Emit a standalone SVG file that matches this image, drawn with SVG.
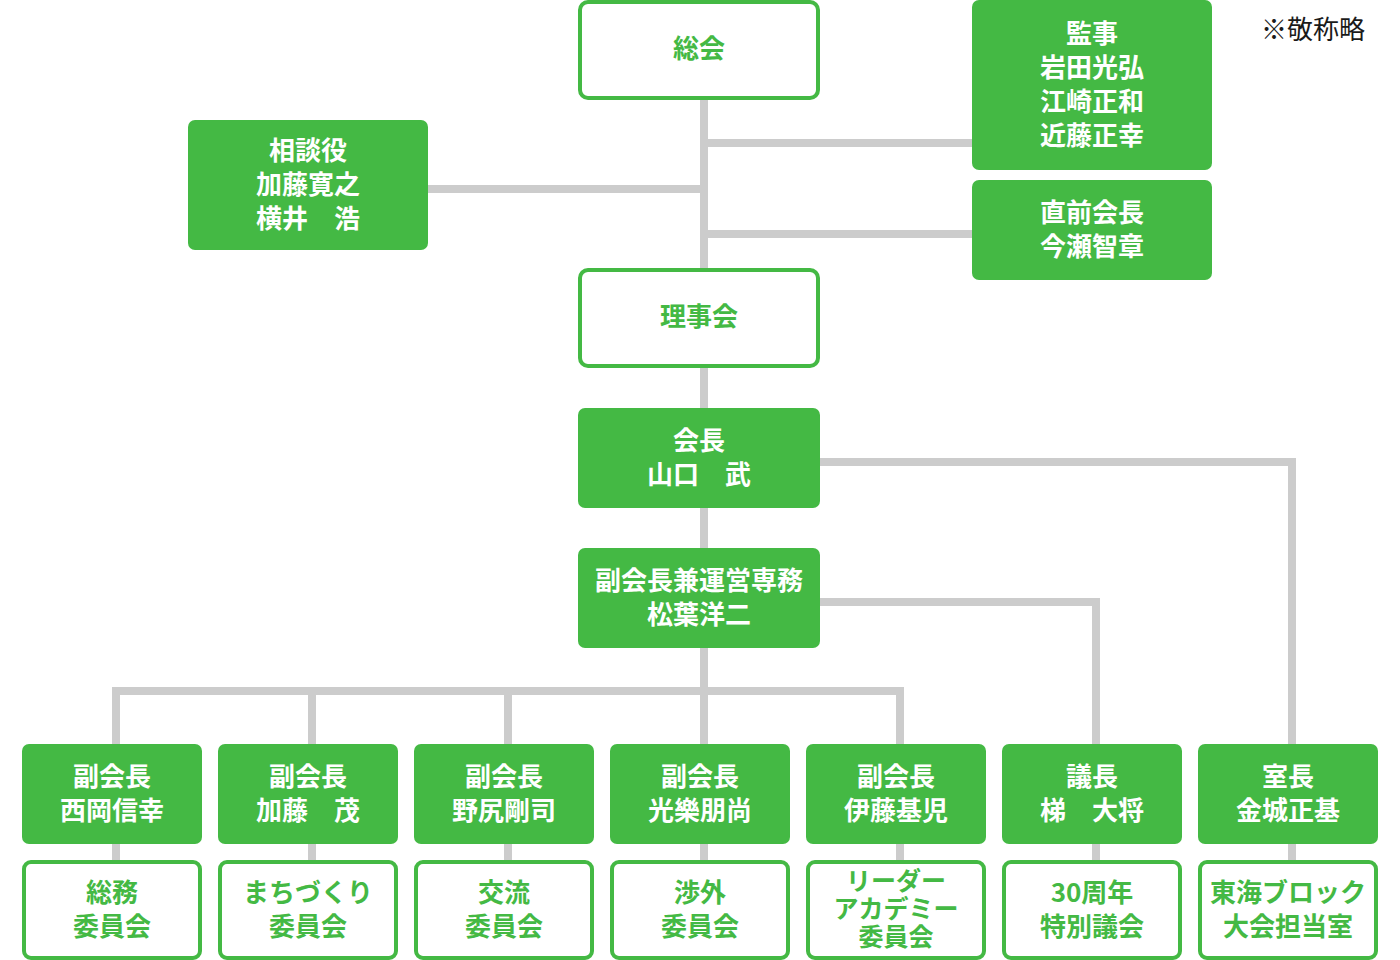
<svg xmlns="http://www.w3.org/2000/svg" width="1400" height="960" viewBox="0 0 1400 960">
<style>
.f{fill:#44b944;}
.o{fill:#fff;stroke:#44b944;stroke-width:4;}
.t{font-family:"Noto Sans CJK JP","Noto Sans",sans-serif;font-weight:bold;font-size:26px;text-anchor:middle;dominant-baseline:central;}
.s{font-size:25px;}
.w{fill:#fff;}
.g{fill:#44b944;}
.c{stroke:#cccccc;stroke-width:8;fill:none;}
</style>
<rect width="1400" height="960" fill="#fff"/>
<g id="connectors">
<line class="c" x1="704" y1="100" x2="704" y2="744"/>
<line class="c" x1="704" y1="143" x2="972" y2="143"/>
<line class="c" x1="704" y1="234" x2="972" y2="234"/>
<line class="c" x1="428" y1="189" x2="704" y2="189"/>
<polyline class="c" points="820,462 1292,462 1292,744"/>
<polyline class="c" points="820,602 1096,602 1096,744"/>
<line class="c" x1="112" y1="691" x2="904" y2="691"/>
<line class="c" x1="116" y1="691" x2="116" y2="744"/>
<line class="c" x1="312" y1="691" x2="312" y2="744"/>
<line class="c" x1="508" y1="691" x2="508" y2="744"/>
<line class="c" x1="900" y1="691" x2="900" y2="744"/>
<line class="c" x1="116" y1="844" x2="116" y2="860"/>
<line class="c" x1="312" y1="844" x2="312" y2="860"/>
<line class="c" x1="508" y1="844" x2="508" y2="860"/>
<line class="c" x1="704" y1="844" x2="704" y2="860"/>
<line class="c" x1="900" y1="844" x2="900" y2="860"/>
<line class="c" x1="1096" y1="844" x2="1096" y2="860"/>
<line class="c" x1="1292" y1="844" x2="1292" y2="860"/>
</g>
<g id="soukai"><rect class="o" x="580" y="2" width="238" height="96" rx="8"/><text class="t g" x="699" y="46">総会</text></g>
<g id="kanji"><rect class="f" x="972" y="0" width="240" height="170" rx="7"/>
<text class="t w" x="1092" y="31">監事</text><text class="t w" x="1092" y="65">岩田光弘</text><text class="t w" x="1092" y="99">江崎正和</text><text class="t w" x="1092" y="133">近藤正幸</text></g>
<g id="chokuzen"><rect class="f" x="972" y="180" width="240" height="100" rx="7"/>
<text class="t w" x="1092" y="210">直前会長</text><text class="t w" x="1092" y="244">今瀬智章</text></g>
<g id="soudan"><rect class="f" x="188" y="120" width="240" height="130" rx="7"/>
<text class="t w" x="308" y="148">相談役</text><text class="t w" x="308" y="182">加藤寛之</text><text class="t w" x="308" y="216">横井　浩</text></g>
<g id="rijikai"><rect class="o" x="580" y="270" width="238" height="96" rx="8"/><text class="t g" x="699" y="314">理事会</text></g>
<g id="kaicho"><rect class="f" x="578" y="408" width="242" height="100" rx="7"/>
<text class="t w" x="699" y="438">会長</text><text class="t w" x="699" y="472">山口　武</text></g>
<g id="fukukaicho-senmu"><rect class="f" x="578" y="548" width="242" height="100" rx="7"/>
<text class="t w" x="699" y="578">副会長兼運営専務</text><text class="t w" x="699" y="612">松葉洋二</text></g>
<g id="vp1"><rect class="f" x="22" y="744" width="180" height="100" rx="7"/><text class="t w" x="112" y="774">副会長</text><text class="t w" x="112" y="808">西岡信幸</text></g>
<g id="vp2"><rect class="f" x="218" y="744" width="180" height="100" rx="7"/><text class="t w" x="308" y="774">副会長</text><text class="t w" x="308" y="808">加藤　茂</text></g>
<g id="vp3"><rect class="f" x="414" y="744" width="180" height="100" rx="7"/><text class="t w" x="504" y="774">副会長</text><text class="t w" x="504" y="808">野尻剛司</text></g>
<g id="vp4"><rect class="f" x="610" y="744" width="180" height="100" rx="7"/><text class="t w" x="700" y="774">副会長</text><text class="t w" x="700" y="808">光樂朋尚</text></g>
<g id="vp5"><rect class="f" x="806" y="744" width="180" height="100" rx="7"/><text class="t w" x="896" y="774">副会長</text><text class="t w" x="896" y="808">伊藤基児</text></g>
<g id="gicho"><rect class="f" x="1002" y="744" width="180" height="100" rx="7"/><text class="t w" x="1092" y="774">議長</text><text class="t w" x="1092" y="808">梯　大将</text></g>
<g id="shitsucho"><rect class="f" x="1198" y="744" width="180" height="100" rx="7"/><text class="t w" x="1288" y="774">室長</text><text class="t w" x="1288" y="808">金城正基</text></g>
<g id="c1"><rect class="o" x="24" y="862" width="176" height="96" rx="7"/><text class="t g" x="112" y="890">総務</text><text class="t g" x="112" y="924">委員会</text></g>
<g id="c2"><rect class="o" x="220" y="862" width="176" height="96" rx="7"/><text class="t g" x="308" y="890">まちづくり</text><text class="t g" x="308" y="924">委員会</text></g>
<g id="c3"><rect class="o" x="416" y="862" width="176" height="96" rx="7"/><text class="t g" x="504" y="890">交流</text><text class="t g" x="504" y="924">委員会</text></g>
<g id="c4"><rect class="o" x="612" y="862" width="176" height="96" rx="7"/><text class="t g" x="700" y="890">渉外</text><text class="t g" x="700" y="924">委員会</text></g>
<g id="c5"><rect class="o" x="808" y="862" width="176" height="96" rx="7"/><text class="t g s"><tspan x="896" y="879">リーダー</tspan><tspan x="896" y="907">アカデミー</tspan><tspan x="896" y="935">委員会</tspan></text></g>
<g id="c6"><rect class="o" x="1004" y="862" width="176" height="96" rx="7"/><text class="t g" x="1092" y="890">30周年</text><text class="t g" x="1092" y="924">特別議会</text></g>
<g id="c7"><rect class="o" x="1200" y="862" width="176" height="96" rx="7"/><text class="t g" x="1288" y="890">東海ブロック</text><text class="t g" x="1288" y="924">大会担当室</text></g>
<text x="1313" y="27" font-family="Noto Sans CJK JP, Noto Sans, sans-serif" font-size="26" fill="#1a1a1a" text-anchor="middle" dominant-baseline="central">※敬称略</text>
</svg>
